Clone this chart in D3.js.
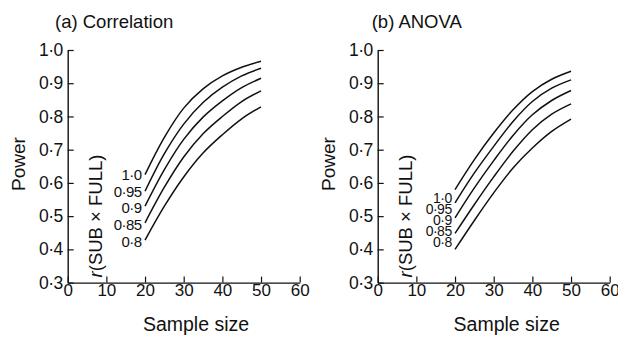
<!DOCTYPE html>
<html>
<head>
<meta charset="utf-8">
<script src="https://cdn.jsdelivr.net/npm/d3@7"></script>
<style>
  body { margin: 0; background: #fff; }
  svg text { font-family: "Liberation Sans", Arial, sans-serif; fill: #111; }
</style>
</head>
<body>
<svg id="chart" width="618" height="337"></svg>
<script>
// sample sizes where power was read
const sampleSizes = [20, 25, 30, 35, 40, 45, 50];
// r(SUB x FULL) levels, top curve first
const rLevels = ["1·0", "0·95", "0·9", "0·85", "0·8"];

// (a) Correlation power, one row per r level
const corrPower = [
  [0.625, 0.737, 0.825, 0.883, 0.922, 0.948, 0.966],
  [0.575, 0.688, 0.777, 0.842, 0.888, 0.922, 0.945],
  [0.530, 0.640, 0.731, 0.798, 0.847, 0.887, 0.915],
  [0.480, 0.587, 0.678, 0.748, 0.800, 0.845, 0.877],
  [0.428, 0.530, 0.618, 0.690, 0.745, 0.793, 0.829]
];

// (b) ANOVA power
const anovaPower = [
  [0.580, 0.670, 0.750, 0.820, 0.875, 0.912, 0.936],
  [0.540, 0.630, 0.710, 0.785, 0.845, 0.885, 0.910],
  [0.495, 0.585, 0.667, 0.743, 0.805, 0.848, 0.878],
  [0.448, 0.535, 0.618, 0.695, 0.760, 0.807, 0.838],
  [0.400, 0.487, 0.570, 0.645, 0.705, 0.755, 0.792]
];

const xTicks = [0, 10, 20, 30, 40, 50, 60];
const yTicks = [0.3, 0.4, 0.5, 0.6, 0.7, 0.8, 0.9, 1.0];

const svg = d3.select('#chart');
const dot = v => d3.format('.1f')(v).replace('.', '·');

function drawPanel(cfg) {
  const g = svg.append('g').attr('transform', `translate(${cfg.dx},0)`);

  const x = d3.scaleLinear().domain([0, 60]).range([67.7, 299.7]);
  const y = d3.scaleLinear().domain([0.3, 1.0]).range([282.6, 50]);

  // axes, ticks pointing inward
  const xAxis = g.append('g').attr('transform', `translate(0,${y(0.3)})`)
    .call(d3.axisBottom(x).tickValues(xTicks).tickSizeInner(-6).tickSizeOuter(0).tickPadding(2));
  const yAxis = g.append('g').attr('transform', `translate(${x(0)},0)`)
    .call(d3.axisLeft(y).tickValues(yTicks).tickFormat(dot).tickSizeInner(-6).tickSizeOuter(0).tickPadding(5));

  [xAxis, yAxis].forEach(a => {
    a.select('.domain').attr('stroke', '#111').attr('stroke-width', 1.4);
    a.selectAll('.tick line').attr('stroke', '#111').attr('stroke-width', 1.2);
    a.selectAll('.tick text').attr('fill', '#111')
      .style('font-family', '"Liberation Sans", Arial, sans-serif');
  });
  xAxis.selectAll('.tick text').attr('font-size', 17).attr('y', 1).attr('dy', '0.71em');
  yAxis.selectAll('.tick text').attr('font-size', 17.5).attr('letter-spacing', -0.5);

  // curves
  const line = d3.line()
    .x((d, i) => x(sampleSizes[i]))
    .y(d => y(d))
    .curve(d3.curveCatmullRom.alpha(0.5));

  g.selectAll('path.curve').data(cfg.values).enter().append('path')
    .attr('class', 'curve')
    .attr('d', line)
    .attr('fill', 'none')
    .attr('stroke', '#111')
    .attr('stroke-width', 1.5);

  // curve labels
  g.selectAll('text.rlab').data(rLevels).enter().append('text')
    .attr('class', 'rlab')
    .attr('x', cfg.labelX)
    .attr('y', (d, i) => cfg.labelY[i])
    .attr('text-anchor', 'end')
    .attr('font-size', cfg.labelSize)
    .attr('letter-spacing', -0.5)
    .text(d => d);

  // titles
  g.append('text').attr('x', cfg.titleX).attr('y', 28)
    .attr('font-size', 18.5).text(cfg.title);

  g.append('text').attr('x', cfg.xLabelX).attr('y', 331)
    .attr('text-anchor', 'middle').attr('font-size', 19.5).text('Sample size');

  g.append('text').attr('transform', 'translate(25,164) rotate(-90)')
    .attr('text-anchor', 'middle').attr('font-size', 19).text('Power');

  const rl = g.append('text').attr('transform', 'translate(101.5,216) rotate(-90)')
    .attr('text-anchor', 'middle').attr('font-size', 18.5);
  rl.append('tspan').attr('font-style', 'italic').text('r');
  rl.append('tspan').text('(SUB × FULL)');
}

drawPanel({
  dx: 0, title: '(a) Correlation', titleX: 55, xLabelX: 196,
  values: corrPower, labelX: 141.7, labelSize: 15, labelY: [180, 197, 213, 230, 247]
});
drawPanel({
  dx: 310, title: '(b) ANOVA', titleX: 61.7, xLabelX: 196.7,
  values: anovaPower, labelX: 141.7, labelSize: 14, labelY: [203, 214, 225, 236, 247]
});
</script>
</body>
</html>
